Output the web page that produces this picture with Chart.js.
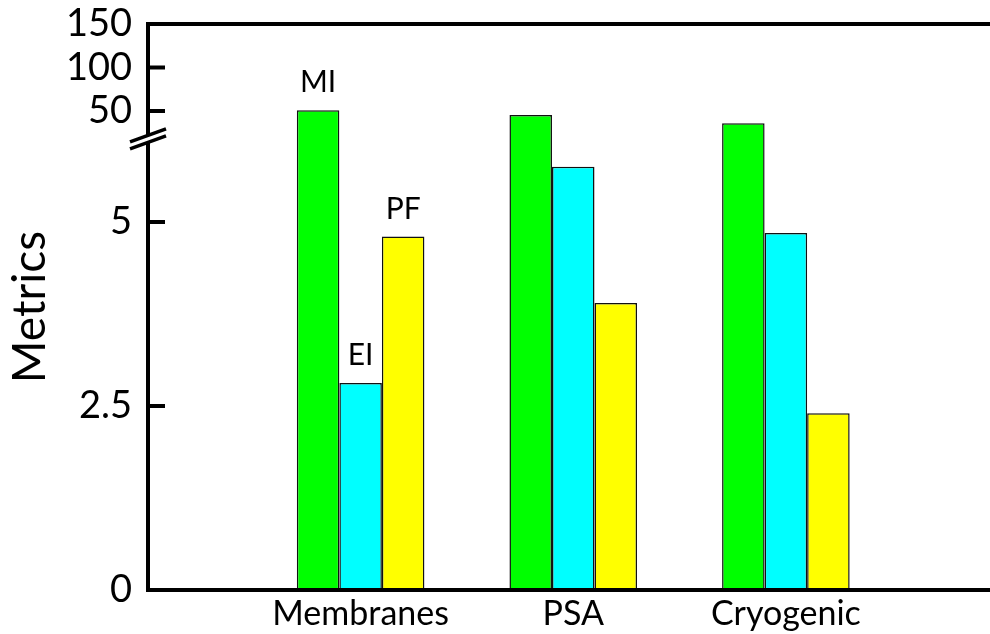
<!DOCTYPE html>
<html>
<head>
<meta charset="utf-8">
<script src="https://cdn.jsdelivr.net/npm/chart.js@4.4.1/dist/chart.umd.min.js"></script>
<style>
  html, body { margin: 0; padding: 0; background: #fff; overflow: hidden; }
  #wrap { width: 1000px; height: 634px; }
</style>
</head>
<body>
<div id="wrap"><canvas id="chart"></canvas></div>
<script>
// values
const categories = ['Membranes', 'PSA', 'Cryogenic'];
const seriesNames = ['MI', 'EI', 'PF'];
const miValues = [51, 45.4, 36];
const eiValues = [2.81, 5.75, 4.85];
const pfValues = [4.80, 3.90, 2.40];
const tickValues = [0, 2.5, 5, 50, 100, 150];
const colors = ['#00ff00', '#00ffff', '#ffff00'];

// broken y axis: lower part 0..BREAK_LOW linear, upper part from BREAK_HIGH compressed
const BREAK_LOW = 6.08;
const BREAK_HIGH = 22;
const BREAK_GAP = 0.095;
const UPPER_RATIO = 0.01182;
const Y_TOP = 150;

function toAxis(v) {
  if (v == null) return null;
  if (v <= BREAK_LOW) return v;
  return BREAK_LOW + BREAK_GAP + (v - BREAK_HIGH) * UPPER_RATIO;
}

// empty slot at the left edge and right edge, like the original category layout
const labels = [''].concat(categories, ['']);
const pad = arr => [null].concat(arr.map(toAxis), [null]);

const axisLines = {
  id: 'axisLines',
  afterDatasetsDraw(chart) {
    const ctx = chart.ctx;
    const { left, top, bottom } = chart.chartArea;
    const y = chart.scales.y;
    const W = chart.width;
    ctx.save();

    // series names above the first group
    ctx.fillStyle = '#000';
    ctx.font = '30px Lato';
    ctx.textAlign = 'center';
    ctx.textBaseline = 'alphabetic';
    chart.data.datasets.forEach((ds, i) => {
      const bar = chart.getDatasetMeta(i).data[1];
      ctx.fillText(ds.label, bar.x, bar.y - 18);
    });

    ctx.strokeStyle = '#000';
    ctx.lineWidth = 4;
    ctx.lineCap = 'butt';
    ctx.beginPath();
    ctx.moveTo(left, top - 2); ctx.lineTo(left, bottom + 2);
    ctx.moveTo(left - 2, top); ctx.lineTo(W, top);
    ctx.moveTo(left - 2, bottom); ctx.lineTo(W, bottom);
    [2.5, 5, 50, 100].forEach(v => {
      const py = y.getPixelForValue(toAxis(v));
      ctx.moveTo(left, py); ctx.lineTo(left + 17, py);
    });
    ctx.stroke();

    // break marks
    const yHi = y.getPixelForValue(BREAK_LOW + BREAK_GAP);
    const yLo = y.getPixelForValue(BREAK_LOW);
    const hw = 18, slope = 6.5;
    ctx.fillStyle = '#fff';
    ctx.beginPath();
    ctx.moveTo(left - hw, yHi + slope);
    ctx.lineTo(left + hw, yHi - slope);
    ctx.lineTo(left + hw, yLo - slope);
    ctx.lineTo(left - hw, yLo + slope);
    ctx.closePath();
    ctx.fill();
    ctx.lineWidth = 3.5;
    ctx.beginPath();
    ctx.moveTo(left - hw, yHi + slope); ctx.lineTo(left + hw, yHi - slope);
    ctx.moveTo(left - hw, yLo + slope); ctx.lineTo(left + hw, yLo - slope);
    ctx.stroke();
    ctx.restore();
  }
};

new Chart(document.getElementById('chart'), {
  type: 'bar',
  data: {
    labels: labels,
    datasets: [
      { label: seriesNames[0], data: pad(miValues), backgroundColor: colors[0] },
      { label: seriesNames[1], data: pad(eiValues), backgroundColor: colors[1] },
      { label: seriesNames[2], data: pad(pfValues), backgroundColor: colors[2] }
    ]
  },
  options: {
    responsive: true,
    maintainAspectRatio: false,
    devicePixelRatio: 1,
    animation: false,
    datasets: {
      bar: {
        categoryPercentage: 0.6,
        barPercentage: 1.0,
        borderColor: '#111',
        borderWidth: 1.5,
        borderSkipped: false
      }
    },
    layout: { padding: { top: 24, right: 1.5, left: 0, bottom: 0 } },
    plugins: {
      legend: { display: false },
      tooltip: { enabled: false }
    },
    scales: {
      x: {
        offset: false,
        grid: { display: false },
        border: { display: false },
        ticks: {
          color: '#000',
          font: { family: 'Lato', size: 34 },
          padding: -4,
          maxRotation: 0,
          autoSkip: false
        },
        afterFit: s => { s.height = 44; }
      },
      y: {
        min: 0,
        max: toAxis(Y_TOP),
        grid: { display: false, drawTicks: false },
        border: { display: false },
        afterBuildTicks: s => {
          s.ticks = tickValues.map(v => ({ value: toAxis(v) }));
        },
        ticks: {
          color: '#000',
          font: { family: 'Lato', size: 38 },
          padding: 16,
          callback: (val, i) => String(tickValues[i])
        },
        title: {
          display: true,
          text: 'Metrics',
          color: '#000',
          font: { family: 'Lato', size: 46 },
          padding: { top: 3, bottom: 0 }
        },
        afterFit: s => { s.width = 148; s.paddingTop = 0; s.paddingBottom = 0; }
      }
    }
  },
  plugins: [axisLines]
});
</script>
</body>
</html>
